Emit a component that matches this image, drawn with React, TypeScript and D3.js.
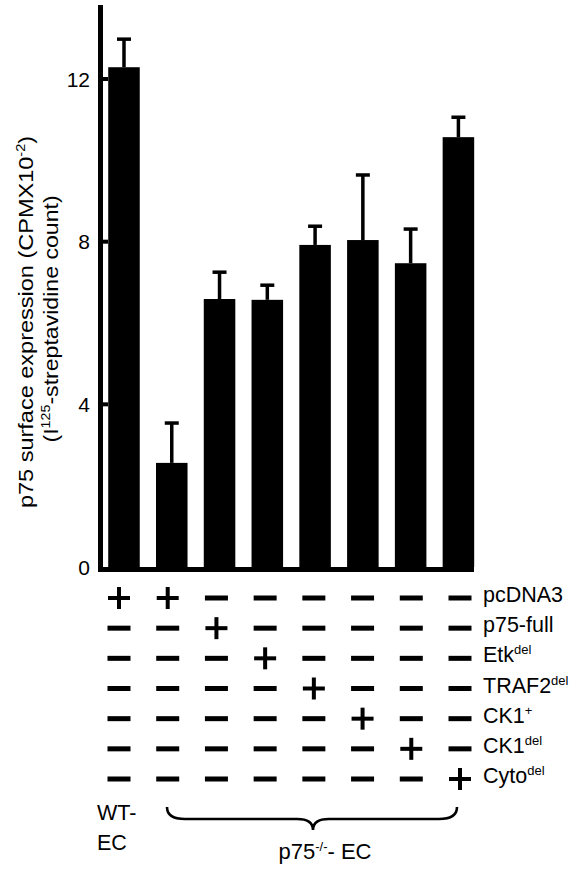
import React from 'react';
import * as d3 from 'd3';

const conditions = ['WT-pcDNA3', 'KO-pcDNA3', 'p75-full', 'Etkdel', 'TRAF2del', 'CK1+', 'CK1del', 'Cytodel'];
const means = [12.29, 2.56, 6.59, 6.57, 7.92, 8.04, 7.47, 10.57];
const errors = [0.69, 0.98, 0.66, 0.36, 0.46, 1.6, 0.84, 0.49];
const yTicks = [0, 4, 8, 12];
const rowMain = ['pcDNA3', 'p75-full', 'Etk', 'TRAF2', 'CK1', 'CK1', 'Cyto'];
const rowSup = ['', '', 'del', 'del', '+', 'del', 'del'];
const signs = [
  [1, 1, 0, 0, 0, 0, 0, 0],
  [0, 0, 1, 0, 0, 0, 0, 0],
  [0, 0, 0, 1, 0, 0, 0, 0],
  [0, 0, 0, 0, 1, 0, 0, 0],
  [0, 0, 0, 0, 0, 1, 0, 0],
  [0, 0, 0, 0, 0, 0, 1, 0],
  [0, 0, 0, 0, 0, 0, 0, 1],
];

const W = 587;
const H = 871;
const FONT = "'Liberation Sans', Arial, Helvetica, sans-serif";

export default function App() {
  const y = d3.scaleLinear().domain([0, 13.82]).range([567, 5]);
  const x = d3
    .scaleBand<string>()
    .domain(conditions)
    .range([100.1, 482.3])
    .paddingInner(0.34)
    .paddingOuter(0.17);
  const col = d3.scalePoint<string>().domain(conditions).range([119, 460]);
  const rowY = d3
    .scalePoint<number>()
    .domain(d3.range(rowMain.length))
    .range([598, 779]);

  const bw = x.bandwidth();
  const capW = 14;

  const braceL = 167;
  const braceR = 457;
  const braceTop = 807;
  const braceBot = 819;
  const braceTip = 830;
  const braceMid = 313;
  const bracePath = `M${braceL},${braceTop} Q${braceL},${braceBot} ${braceL + 18},${braceBot} L${braceMid - 16},${braceBot} Q${braceMid},${braceBot} ${braceMid},${braceTip} Q${braceMid},${braceBot} ${braceMid + 16},${braceBot} L${braceR - 18},${braceBot} Q${braceR},${braceBot} ${braceR},${braceTop}`;

  return (
    <svg
      width={W}
      height={H}
      viewBox={`0 0 ${W} ${H}`}
      style={{ position: 'absolute', left: 0, top: 0, display: 'block', background: '#fff' }}
      fontFamily={FONT}
    >
      {/* bars */}
      {conditions.map((c, i) => (
        <rect key={c} x={x(c)} y={y(means[i])} width={bw} height={y(0) - y(means[i])} fill="#000" />
      ))}
      {/* error bars */}
      {conditions.map((c, i) => {
        const cx = (x(c) as number) + bw / 2;
        const top = y(means[i] + errors[i]);
        return (
          <g key={'e' + c} stroke="#000" strokeWidth={3.5}>
            <line x1={cx} x2={cx} y1={y(means[i])} y2={top} />
            <line x1={cx - capW / 2} x2={cx + capW / 2} y1={top} y2={top} />
          </g>
        );
      })}
      {/* y axis */}
      <rect x={98} y={y.range()[1]} width={5} height={572 - y.range()[1]} fill="#000" />
      <rect x={98} y={567} width={376} height={5} fill="#000" />
      {yTicks.map((t) => (
        <g key={'t' + t}>
          {t > 0 && <rect x={103} y={y(t) - 2} width={5} height={4} fill="#000" />}
          <text x={90} y={y(t)} dy="0.36em" textAnchor="end" fontSize={21}>
            {t}
          </text>
        </g>
      ))}
      {/* y label */}
      <text transform="translate(33,322) rotate(-90) scale(1.12,1)" textAnchor="middle" fontSize={21}>
        p75 surface expression (CPMX10
        <tspan fontSize={13} dy={-8}>-2</tspan>
        <tspan dy={8}>)</tspan>
      </text>
      <text transform="translate(58,319) rotate(-90) scale(1.1,1)" textAnchor="middle" fontSize={21}>
        (I<tspan fontSize={13} dy={-8}>125</tspan>
        <tspan dy={8}>-streptavidine count)</tspan>
      </text>
      {/* sign table */}
      {signs.map((row, r) =>
        row.map((s, ci) => {
          const cx = col(conditions[ci]) as number;
          const cy = rowY(r) as number;
          return s ? (
            <g key={`s${r}-${ci}`} fill="#000">
              <rect x={cx - 11} y={cy - 2} width={22} height={4} />
              <rect x={cx - 2} y={cy - 11} width={4} height={22} />
            </g>
          ) : (
            <rect key={`s${r}-${ci}`} x={cx - 11.5} y={cy - 2.5} width={23} height={5} fill="#000" />
          );
        })
      )}
      {rowMain.map((m, r) => (
        <text key={'r' + r} x={483} y={(rowY(r) as number) + 4} fontSize={21.5}>
          {m}
          {rowSup[r] && (
            <tspan fontSize={13} dy={-8}>
              {rowSup[r]}
            </tspan>
          )}
        </text>
      ))}
      {/* group labels */}
      <text x={97} y={820} fontSize={21.5}>WT-</text>
      <text x={97} y={850} fontSize={21.5}>EC</text>
      <path d={bracePath} fill="none" stroke="#000" strokeWidth={2.6} />
      <text x={325} y={859} textAnchor="middle" fontSize={22}>
        p75<tspan fontSize={13} dy={-8}>-/-</tspan>
        <tspan dy={8}>- EC</tspan>
      </text>
    </svg>
  );
}
